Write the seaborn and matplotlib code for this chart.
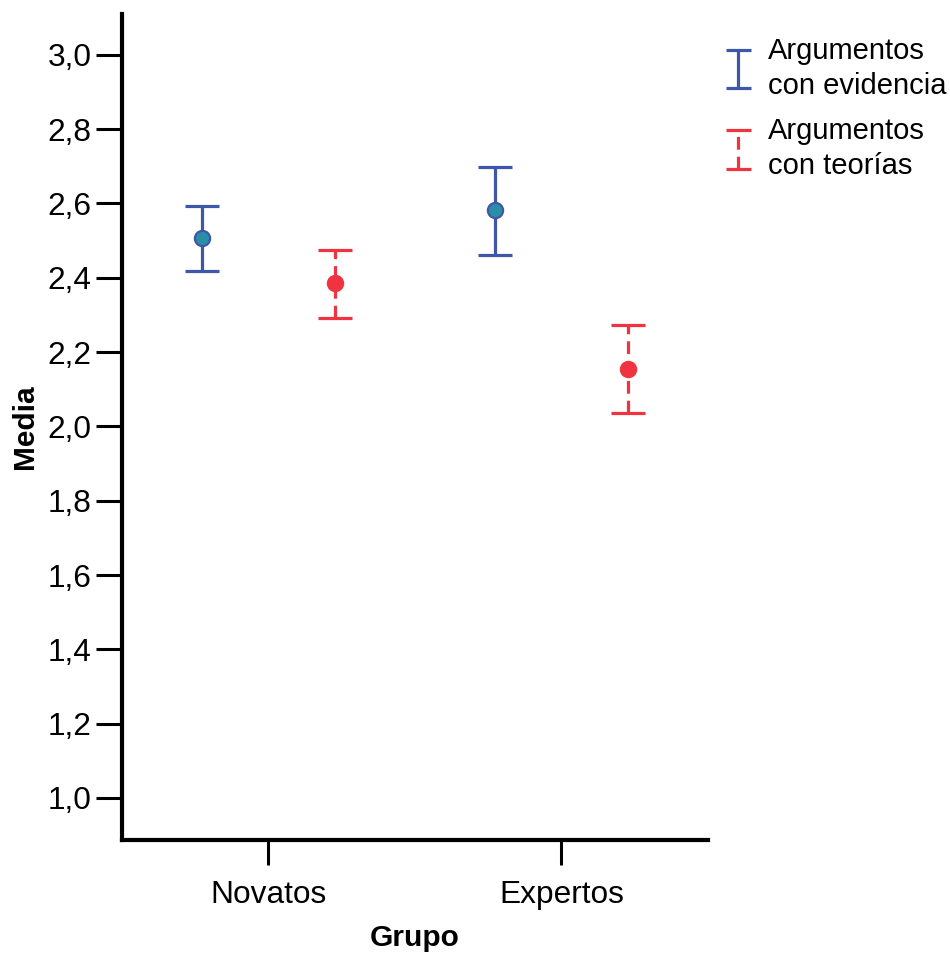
import numpy as np
import pandas as pd
import matplotlib
matplotlib.use("Agg")
import matplotlib.pyplot as plt
import seaborn as sns
from matplotlib.container import ErrorbarContainer
from matplotlib.legend_handler import HandlerErrorbar
from matplotlib.lines import Line2D

# ---- data ----
groups = ["Novatos", "Expertos"]
series = ["Argumentos\ncon evidencia", "Argumentos\ncon teorías"]
mean_evid = [2.507, 2.583]
low_evid = [2.419, 2.462]
high_evid = [2.594, 2.699]
mean_teor = [2.386, 2.155]
low_teor = [2.292, 2.036]
high_teor = [2.475, 2.273]
yticks = [1.0, 1.2, 1.4, 1.6, 1.8, 2.0, 2.2, 2.4, 2.6, 2.8, 3.0]
ytick_labels = ["1,0", "1,2", "1,4", "1,6", "1,8", "2,0", "2,2", "2,4", "2,6", "2,8", "3,0"]

sns.set_style("ticks")
plt.rcParams['font.family'] = ['Liberation Sans', 'DejaVu Sans']
plt.rcParams['text.color'] = 'black'
plt.rcParams['axes.labelcolor'] = 'black'

line_colors = {series[0]: "#3f57a8", series[1]: "#ef3340"}
face_colors = {series[0]: "#2a8fa6", series[1]: "#ef3340"}
dodge = {series[0]: -0.226, series[1]: 0.226}

rows = []
for s, m, lo, hi in [(series[0], mean_evid, low_evid, high_evid),
                     (series[1], mean_teor, low_teor, high_teor)]:
    for gi, g in enumerate(groups):
        rows.append(dict(group=g, gi=gi, series=s, mean=m[gi], low=lo[gi], high=hi[gi]))
df = pd.DataFrame(rows)
df["x"] = df["gi"] + df["series"].map(dodge)

fig = plt.figure(figsize=(9.5, 9.57), dpi=100)
ax = fig.add_axes([0.1284, 0.1223, 0.6168, 0.8631])

handles = []
for s in series:
    d = df[df["series"] == s]
    eb = ax.errorbar(d["x"], d["mean"],
                     yerr=[d["mean"] - d["low"], d["high"] - d["mean"]],
                     fmt="none", ecolor=line_colors[s], elinewidth=2.3,
                     capsize=12.5, capthick=2.3, label=s, zorder=2)
    if s == series[1]:
        eb.lines[2][0].set_linestyle((0, (4, 2.2)))
    handles.append(eb)
    sns.scatterplot(data=d, x="x", y="mean", color=face_colors[s],
                    edgecolor=line_colors[s], linewidth=1.6, s=120,
                    ax=ax, zorder=3, legend=False)

ax.set_xlim(-0.5, 1.5)
ax.set_ylim(0.887, 3.11)
ax.set_xticks(range(len(groups)))
ax.set_xticklabels(groups)
ax.set_yticks(yticks)
ax.set_yticklabels(ytick_labels)
ax.tick_params(axis="both", labelsize=22.8, width=2.2, length=19, pad=3, color="black",
               labelcolor="black")
ax.tick_params(axis="x", length=18, pad=11)
for sp in ["top", "right"]:
    ax.spines[sp].set_visible(False)
for sp in ["left", "bottom"]:
    ax.spines[sp].set_linewidth(3)
    ax.spines[sp].set_color("black")
ax.set_xlabel("Grupo", fontsize=21.5, fontweight="bold", labelpad=10)
ax.set_ylabel("Media", fontsize=21.5, fontweight="bold", labelpad=6)


class SmallCapHandler(HandlerErrorbar):
    def create_artists(self, *args, **kwargs):
        arts = super().create_artists(*args, **kwargs)
        for a in arts:
            if isinstance(a, Line2D) and a.get_marker() == "_":
                a.set_markersize(18)
        return arts


leg = fig.legend(handles, series, loc="upper left", bbox_to_anchor=(0.746, 0.974),
                 frameon=False, fontsize=21, handlelength=1.2, handletextpad=0.42,
                 labelspacing=0.6, borderaxespad=0,
                 handler_map={ErrorbarContainer: SmallCapHandler(xerr_size=0.4, yerr_size=0.66)})
for t in leg.get_texts():
    t.set_linespacing(1.32)
    t.set_color("black")

fig.savefig("out.png", dpi=100)
